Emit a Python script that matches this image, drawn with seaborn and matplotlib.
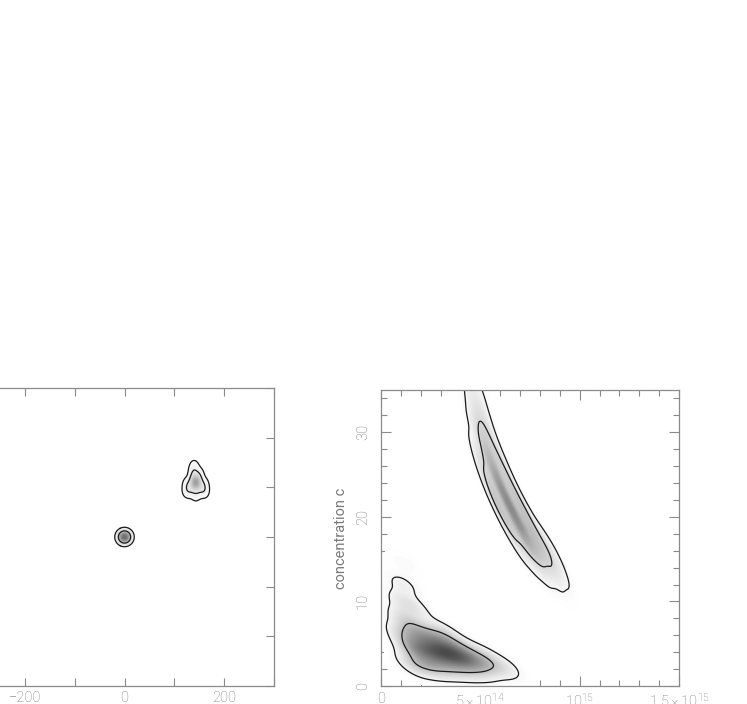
import numpy as np
import pandas as pd
import matplotlib
matplotlib.use("Agg")
import matplotlib.pyplot as plt
from matplotlib.colors import LinearSegmentedColormap
from matplotlib.ticker import MultipleLocator, FixedLocator
import seaborn as sns

# ---- left panel: offset clouds (x, y, weight) ----
core_x = [0, 8, -8, 0, 0, 5.7, -5.7, 5.7, -5.7]
core_y = [0, 0, 0, 8, -8, 5.7, 5.7, -5.7, -5.7]
core_w = [1.0, 0.25, 0.25, 0.25, 0.25, 0.25, 0.25, 0.25, 0.25]

blob_x = [143, 140, 138, 150, 127, 159, 125, 161, 143, 133, 153]
blob_y = [110, 142, 128, 126, 106, 106, 92, 92, 86, 96, 96]
blob_w = [3.0, 0.3, 0.4, 0.35, 0.4, 0.4, 0.3, 0.3, 0.35, 0.35, 0.35]

# ---- right panel: mass (units of 1e14) vs concentration ----
low_m = [1.7, 2.5, 3.3, 4.1, 4.9, 5.7, 6.4,
         1.7, 2.5, 3.3, 4.1,
         1.7, 2.5, 3.3, 4.1, 4.9,
         1.25, 1.15, 1.1, 1.2, 1.2, 1.8,
         3.1, 5.1]
low_c = [4.4, 4.2, 3.9, 3.4, 2.9, 2.5, 2.1,
         6.3, 5.8, 5.2, 4.5,
         2.6, 2.5, 2.4, 2.2, 2.0,
         8.0, 10.0, 12.0, 14.5, 6.0, 9.0,
         6.4, 3.8]
low_w = [1.0, 1.3, 1.4, 1.1, 0.75, 0.45, 0.18,
         0.7, 0.8, 0.6, 0.4,
         0.6, 0.8, 0.7, 0.55, 0.3,
         0.45, 0.32, 0.24, 0.09, 0.45, 0.2,
         0.3, 0.2]

up_m = [4.7, 4.9, 5.15, 5.5, 5.85, 6.3, 6.8, 7.3, 7.9, 8.5, 9.1,
        4.45, 4.65, 4.85, 5.05, 5.35, 5.75, 6.25, 6.75, 7.35, 7.95,
        4.95, 5.15, 5.45, 5.95, 6.35, 6.85, 7.35, 7.85, 8.45, 8.95]
up_c = [36, 33, 30, 27, 24.5, 22, 19.8, 17.8, 16.0, 14.5, 13.4,
        36, 33, 30, 27, 24.5, 22, 19.8, 17.8, 16.0, 14.5,
        36, 33, 30, 27, 24.5, 22, 19.8, 17.8, 16.0, 14.5]
up_w = [0.2, 0.35, 0.6, 0.85, 1.05, 1.2, 1.2, 1.0, 0.8, 0.5, 0.08,
        0.08, 0.15, 0.28, 0.42, 0.52, 0.6, 0.6, 0.5, 0.4, 0.25,
        0.08, 0.15, 0.28, 0.42, 0.52, 0.6, 0.6, 0.5, 0.4, 0.22]

mass_ticks = [0, 5e14, 1e15, 1.5e15]
mass_labels = ["0", r"$5\times10^{14}$", r"$10^{15}$", r"$1.5\times10^{15}$"]

sns.set_style("ticks")
plt.rcParams["font.family"] = ["Roboto", "DejaVu Sans"]
plt.rcParams["font.weight"] = "light"
plt.rcParams["mathtext.fontset"] = "custom"
plt.rcParams["mathtext.rm"] = "Roboto:light"
plt.rcParams["mathtext.it"] = "Roboto:light"

GRAY = "#8a8a8a"
TEXT = "#7a7a7a"
LINE = "#1a1a1a"


def grey_map(top):
    return LinearSegmentedColormap.from_list("g", ["white", top])


def density(ax, df, top, bw):
    sns.kdeplot(data=df, x="x", y="y", weights="w", fill=True, levels=80,
                thresh=0.005, cmap=grey_map(top), bw_method=bw, ax=ax)


def contours(ax, df, bw):
    sns.kdeplot(data=df, x="x", y="y", weights="w", levels=[0.05, 0.32],
                color=LINE, linewidths=0.9, bw_method=bw, ax=ax)


def frame(ax):
    for s in ax.spines.values():
        s.set_color(GRAY)
        s.set_linewidth(0.9)
        s.set_visible(True)
    ax.tick_params(which="both", direction="in", top=True, right=True,
                   color=GRAY, labelcolor=TEXT, labelsize=10.5, width=0.8)
    ax.set_xlabel("")
    ax.set_ylabel("")


fig = plt.figure(figsize=(7.47, 7.04), dpi=100)

# left panel (partly outside the canvas, as in the cropped original)
axl = fig.add_axes([-25 / 747, 18 / 704, 299 / 747, 298 / 704])
core = pd.DataFrame({"x": core_x, "y": core_y, "w": core_w})
blob = pd.DataFrame({"x": blob_x, "y": blob_y, "w": blob_w})
density(axl, core, "#6e6e6e", 1.3)
density(axl, blob, "#a0a0a0", 0.63)
contours(axl, core, 1.3)
contours(axl, blob, 0.63)
axl.set_xlim(-300, 300)
axl.set_ylim(-300, 300)
axl.xaxis.set_major_locator(FixedLocator([-200, 0, 200]))
axl.xaxis.set_minor_locator(MultipleLocator(100))
axl.yaxis.set_major_locator(MultipleLocator(100))
frame(axl)
axl.tick_params(which="both", length=6)
axl.tick_params(axis="y", labelleft=False)

# right panel
axr = fig.add_axes([381 / 747, 18 / 704, 298 / 747, 296 / 704])
low = pd.DataFrame({"x": np.array(low_m) * 1e14, "y": low_c, "w": low_w})
up = pd.DataFrame({"x": np.array(up_m) * 1e14, "y": up_c, "w": up_w})
density(axr, low, "#4a4a4a", 0.44)
density(axr, up, "#8a8a8a", 0.4)
contours(axr, low, 0.44)
contours(axr, up, 0.4)
axr.set_xlim(0, 1.5e15)
axr.set_ylim(0, 35)
axr.set_xticks(mass_ticks)
axr.set_xticklabels(mass_labels)
axr.xaxis.set_minor_locator(MultipleLocator(1e14))
axr.yaxis.set_major_locator(MultipleLocator(10))
axr.yaxis.set_minor_locator(MultipleLocator(2))
frame(axr)
axr.tick_params(which="major", length=7)
axr.tick_params(which="minor", length=4)
axr.tick_params(axis="y", labelrotation=90, pad=8)
axr.tick_params(axis="x", pad=4)
for t in axr.get_yticklabels():
    t.set_va("center")
axr.set_ylabel("concentration c", color=TEXT, fontsize=10.5, labelpad=6)

fig.savefig("out.png", dpi=100, facecolor="white")
